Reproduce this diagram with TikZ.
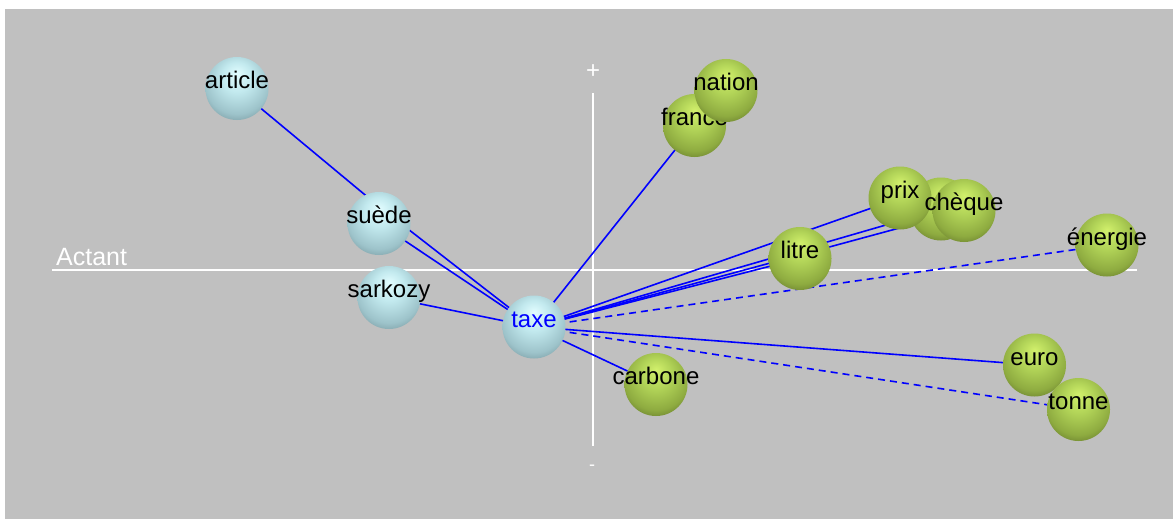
\documentclass[tikz,border=0pt]{standalone}
\usepackage{fontspec}
\setmainfont{Liberation Sans}
\definecolor{bggray}{HTML}{C0C0C0}
\definecolor{linkblue}{HTML}{0000FF}
\definecolor{bhi}{HTML}{E2FDFF}
\definecolor{bmid}{HTML}{C2E9EE}
\definecolor{blo}{HTML}{9DC3CA}
\definecolor{bedge}{HTML}{6E8E95}
\definecolor{ghi}{HTML}{D2F06C}
\definecolor{gmid}{HTML}{B2D458}
\definecolor{glo}{HTML}{8EAB40}
\definecolor{gedge}{HTML}{5A6C26}
\pgfdeclareradialshading{bluesph}{\pgfqpoint{0bp}{12bp}}{color(0bp)=(bhi); color(12bp)=(bmid); color(26bp)=(blo); color(36bp)=(bedge); color(50bp)=(bedge)}
\pgfdeclareradialshading{greensph}{\pgfqpoint{0bp}{12bp}}{color(0bp)=(ghi); color(12bp)=(gmid); color(26bp)=(glo); color(36bp)=(gedge); color(50bp)=(gedge)}
\pgfdeclarelayer{background}
\pgfsetlayers{background,main}
\newcommand{\sphlbl}[1]{\makebox[0pt][c]{#1}}
\begin{document}
\begin{tikzpicture}[x=1pt,y=-1pt,
  sph/.style={circle, minimum size=63pt, inner sep=0pt, text height=0pt, text depth=0pt, font=\fontsize{24}{28}\selectfont},
  bsph/.style={sph, shading=bluesph},
  gsph/.style={sph, shading=greensph},
  link/.style={draw=linkblue, line width=1.6pt},
  dlink/.style={link, dash pattern=on 7pt off 5pt},
  axisline/.style={draw=white, line width=2pt},
  axislabel/.style={text=white, inner sep=0pt}]
\useasboundingbox (0,0) rectangle (1174,519);
% spheres
\node[bsph] (article) at (237,88.5) {\sphlbl{article}};
\node[bsph] (suede) at (379,223.5) {\sphlbl{suède}};
\node[bsph] (sarkozy) at (389,297.5) {\sphlbl{sarkozy}};
\node[bsph, text=linkblue] (taxe) at (534,327) {\sphlbl{taxe}};
\node[gsph] (france) at (694.5,125.5) {\sphlbl{france}};
\node[gsph] (nation) at (726,90.5) {\sphlbl{nation}};
\node[gsph] (litre) at (800,258.5) {\sphlbl{litre}};
\node[gsph] (chequeb) at (941,209) {};
\node[gsph] (prix) at (900,198) {\sphlbl{prix}};
\node[gsph] (cheque) at (964,210.5) {\sphlbl{chèque}};
\node[gsph] (energie) at (1107,245) {\sphlbl{énergie}};
\node[gsph] (euro) at (1034.5,365) {\sphlbl{euro}};
\node[gsph] (tonne) at (1078.5,409.5) {\sphlbl{tonne}};
\node[gsph] (carbone) at (656,384.5) {\sphlbl{carbone}};
\begin{pgfonlayer}{background}
\fill[white] (0,0) rectangle (1174,519);
\fill[bggray] (5,9) rectangle (1173,519);
% axes
\coordinate (axL) at (52,270);
\coordinate (axR) at (1137,270);
\coordinate (axT) at (593,93);
\coordinate (axB) at (593,446);
\draw[axisline] (axL) -- (axR);
\draw[axisline] (axT) -- (axB);
\node[axislabel, anchor=base west, font=\fontsize{25}{28}\selectfont] (actant) at (56,265) {Actant};
\node[axislabel, font=\fontsize{24}{28}\selectfont] (plus) at (593,72) {+};
\node[axislabel, font=\fontsize{18}{20}\selectfont] (minus) at (592,468) {-};
% connectors
\draw[link] (article.center) -- ([yshift=17pt]suede.center);
\draw[link] ([yshift=17pt]suede.center) -- (taxe.center);
\draw[link] (suede.center) -- (taxe.center);
\draw[link] (sarkozy.center) -- (taxe.center);
\draw[link] (taxe.center) -- (france.center);
\draw[link] (taxe.center) -- (prix.center);
\draw[link] (taxe.center) -- (chequeb.center);
\draw[link] (taxe.center) -- (cheque.center);
\draw[link] (taxe.center) -- (litre.center);
\draw[link] (taxe.center) -- (carbone.center);
\draw[link] (taxe.center) -- (euro.center);
\draw[dlink] (taxe.center) -- (energie.center);
\draw[dlink] (taxe.center) -- (tonne.center);
\end{pgfonlayer}
\end{tikzpicture}
\end{document}
